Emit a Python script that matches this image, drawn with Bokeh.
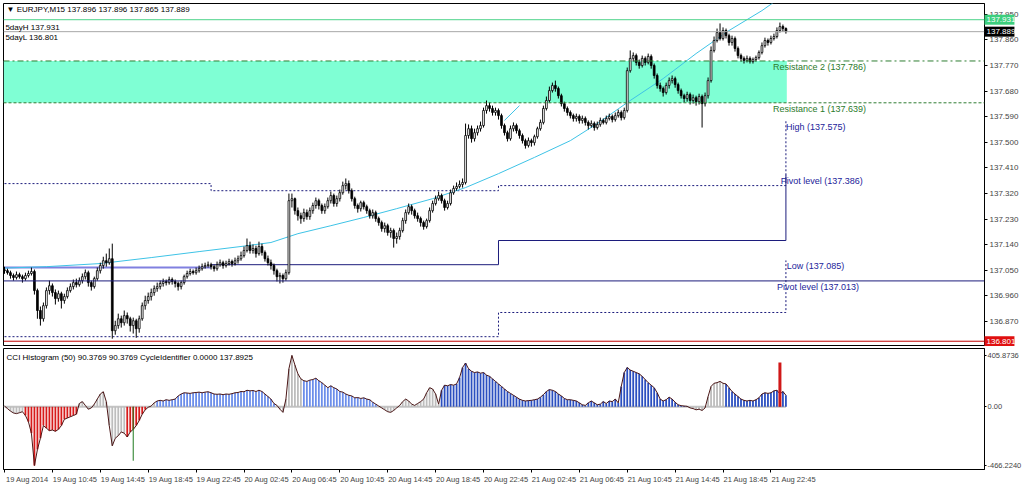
from bokeh.plotting import figure
from bokeh.layouts import column
from bokeh.models import Range1d, FixedTicker, PrintfTickFormatter, Span, Label
from bokeh.embed import file_html
from bokeh.resources import INLINE
from bokeh.core.properties import value

# ---------------- data ----------------
symbol_header = "\u25bc EURJPY,M15  137.896 137.896 137.865 137.889"
indicator_header = "CCI Histogram (50) 90.3769 90.3769   CycleIdentifier 0.0000 137.8925"

time_labels = ["19 Aug 2014", "19 Aug 10:45", "19 Aug 14:45", "19 Aug 18:45", "19 Aug 22:45",
               "20 Aug 02:45", "20 Aug 06:45", "20 Aug 10:45", "20 Aug 14:45", "20 Aug 18:45",
               "20 Aug 22:45", "21 Aug 02:45", "21 Aug 06:45", "21 Aug 10:45", "21 Aug 14:45",
               "21 Aug 18:45", "21 Aug 22:45"]
bars_per_label = 16

first_open = 137.052
closes = [
    137.049, 137.042, 137.032, 137.025, 137.035, 137.028, 137.021, 137.032, 137.039, 137.046,
    136.979, 136.909, 136.880, 136.926, 136.979, 136.996, 136.972, 136.951, 136.968, 136.944,
    136.958, 136.979, 136.993, 137.007, 137.000, 137.014, 137.028, 137.042, 137.007, 136.993,
    137.021, 137.049, 137.067, 137.084, 137.077, 137.091, 136.838, 136.856, 136.880, 136.866,
    136.891, 136.880, 136.856, 136.873, 136.845, 136.880, 136.926, 136.944, 136.958, 136.972,
    136.986, 136.993, 137.004, 137.011, 137.007, 137.018, 137.011, 137.004, 136.993, 137.007,
    137.028, 137.039, 137.046, 137.042, 137.049, 137.056, 137.063, 137.067, 137.070, 137.063,
    137.056, 137.070, 137.077, 137.067, 137.074, 137.081, 137.074, 137.084, 137.091, 137.102,
    137.120, 137.137, 137.120, 137.127, 137.109, 137.134, 137.113, 137.091, 137.077, 137.067,
    137.049, 137.028, 137.032, 137.021, 137.042, 137.295, 137.302, 137.260, 137.242, 137.232,
    137.253, 137.239, 137.260, 137.278, 137.295, 137.278, 137.260, 137.274, 137.295, 137.313,
    137.285, 137.302, 137.323, 137.348, 137.355, 137.330, 137.302, 137.278, 137.267, 137.288,
    137.274, 137.260, 137.242, 137.253, 137.232, 137.218, 137.197, 137.207, 137.183, 137.190,
    137.162, 137.169, 137.190, 137.225, 137.253, 137.274, 137.260, 137.242, 137.232, 137.218,
    137.204, 137.225, 137.260, 137.285, 137.302, 137.313, 137.295, 137.271, 137.285, 137.323,
    137.338, 137.345, 137.352, 137.359, 137.524, 137.548, 137.513, 137.534, 137.548, 137.559,
    137.612, 137.629, 137.619, 137.605, 137.612, 137.594, 137.559, 137.534, 137.513, 137.548,
    137.559, 137.541, 137.524, 137.506, 137.489, 137.506, 137.499, 137.520, 137.548, 137.570,
    137.619, 137.647, 137.682, 137.700, 137.689, 137.664, 137.636, 137.619, 137.605, 137.594,
    137.584, 137.591, 137.577, 137.584, 137.570, 137.559, 137.566, 137.552, 137.563, 137.577,
    137.570, 137.584, 137.591, 137.580, 137.594, 137.605, 137.587, 137.612, 137.752, 137.795,
    137.805, 137.781, 137.770, 137.795, 137.781, 137.802, 137.770, 137.735, 137.700, 137.689,
    137.675, 137.700, 137.717, 137.724, 137.703, 137.682, 137.664, 137.654, 137.668, 137.647,
    137.657, 137.643, 137.661, 137.636, 137.664, 137.717, 137.823, 137.858, 137.886, 137.865,
    137.893, 137.875, 137.851, 137.865, 137.830, 137.805, 137.795, 137.788, 137.795, 137.784,
    137.791, 137.798, 137.816, 137.840, 137.858, 137.851, 137.865, 137.872, 137.893, 137.907,
    137.900, 137.889]
highs = [
    137.063, 137.056, 137.049, 137.039, 137.046, 137.042, 137.035, 137.042, 137.049, 137.060,
    137.053, 136.986, 136.923, 136.937, 136.990, 137.014, 137.004, 136.983, 136.979, 136.975,
    136.968, 136.990, 137.004, 137.018, 137.021, 137.025, 137.039, 137.053, 137.049, 137.014,
    137.028, 137.060, 137.077, 137.098, 137.109, 137.127, 137.144, 136.873, 136.898, 136.891,
    136.909, 136.902, 136.887, 136.884, 136.880, 136.891, 136.937, 136.961, 136.972, 136.986,
    136.997, 137.007, 137.014, 137.021, 137.018, 137.028, 137.025, 137.018, 137.011, 137.014,
    137.035, 137.049, 137.056, 137.053, 137.060, 137.067, 137.074, 137.077, 137.081, 137.077,
    137.070, 137.081, 137.088, 137.084, 137.084, 137.091, 137.088, 137.095, 137.102, 137.116,
    137.134, 137.162, 137.151, 137.141, 137.137, 137.151, 137.144, 137.120, 137.102, 137.088,
    137.074, 137.056, 137.042, 137.039, 137.053, 137.320, 137.320, 137.306, 137.271, 137.253,
    137.267, 137.264, 137.271, 137.288, 137.306, 137.302, 137.285, 137.285, 137.306, 137.327,
    137.320, 137.313, 137.334, 137.362, 137.373, 137.366, 137.338, 137.309, 137.285, 137.295,
    137.295, 137.281, 137.267, 137.264, 137.260, 137.239, 137.225, 137.218, 137.214, 137.200,
    137.197, 137.183, 137.200, 137.235, 137.264, 137.285, 137.281, 137.267, 137.253, 137.239,
    137.225, 137.232, 137.271, 137.295, 137.313, 137.327, 137.320, 137.302, 137.295, 137.334,
    137.348, 137.359, 137.366, 137.373, 137.566, 137.563, 137.559, 137.548, 137.559, 137.573,
    137.622, 137.647, 137.640, 137.629, 137.622, 137.619, 137.601, 137.566, 137.541, 137.559,
    137.570, 137.566, 137.548, 137.531, 137.513, 137.517, 137.513, 137.527, 137.555, 137.580,
    137.629, 137.661, 137.696, 137.710, 137.717, 137.696, 137.671, 137.643, 137.626, 137.612,
    137.601, 137.601, 137.598, 137.594, 137.591, 137.577, 137.577, 137.573, 137.573, 137.587,
    137.584, 137.594, 137.601, 137.598, 137.605, 137.615, 137.612, 137.622, 137.763, 137.823,
    137.816, 137.812, 137.791, 137.805, 137.802, 137.812, 137.809, 137.777, 137.742, 137.710,
    137.696, 137.710, 137.728, 137.735, 137.731, 137.710, 137.689, 137.671, 137.678, 137.675,
    137.668, 137.664, 137.671, 137.668, 137.675, 137.728, 137.837, 137.872, 137.900, 137.918,
    137.904, 137.900, 137.882, 137.875, 137.872, 137.837, 137.812, 137.802, 137.805, 137.802,
    137.798, 137.805, 137.823, 137.851, 137.868, 137.865, 137.875, 137.882, 137.904, 137.921,
    137.914, 137.904]
lows = [
    137.038, 137.035, 137.021, 137.014, 137.018, 137.021, 137.007, 137.014, 137.025, 137.032,
    136.965, 136.880, 136.856, 136.870, 136.916, 136.965, 136.958, 136.930, 136.940, 136.916,
    136.933, 136.951, 136.972, 136.983, 136.990, 136.993, 137.004, 137.018, 136.993, 136.979,
    136.986, 137.014, 137.039, 137.056, 137.063, 137.070, 136.810, 136.824, 136.845, 136.849,
    136.856, 136.863, 136.835, 136.828, 136.813, 136.831, 136.873, 136.912, 136.933, 136.944,
    136.961, 136.975, 136.983, 136.993, 136.997, 137.000, 137.000, 136.990, 136.979, 136.983,
    137.000, 137.021, 137.032, 137.035, 137.035, 137.042, 137.049, 137.056, 137.060, 137.053,
    137.046, 137.049, 137.063, 137.056, 137.060, 137.067, 137.063, 137.067, 137.074, 137.084,
    137.095, 137.113, 137.109, 137.109, 137.095, 137.102, 137.102, 137.081, 137.067, 137.053,
    137.035, 137.011, 137.004, 137.007, 137.014, 137.035, 137.271, 137.246, 137.225, 137.214,
    137.221, 137.228, 137.228, 137.249, 137.267, 137.264, 137.249, 137.249, 137.267, 137.285,
    137.274, 137.274, 137.292, 137.316, 137.334, 137.320, 137.292, 137.267, 137.253, 137.257,
    137.264, 137.249, 137.232, 137.232, 137.221, 137.207, 137.186, 137.183, 137.172, 137.165,
    137.130, 137.144, 137.158, 137.183, 137.214, 137.246, 137.246, 137.232, 137.221, 137.204,
    137.193, 137.197, 137.218, 137.253, 137.278, 137.295, 137.285, 137.260, 137.264, 137.278,
    137.316, 137.330, 137.338, 137.341, 137.352, 137.513, 137.499, 137.503, 137.524, 137.538,
    137.552, 137.601, 137.608, 137.594, 137.594, 137.580, 137.548, 137.524, 137.503, 137.506,
    137.538, 137.531, 137.513, 137.496, 137.478, 137.482, 137.485, 137.489, 137.513, 137.541,
    137.563, 137.612, 137.640, 137.675, 137.678, 137.654, 137.626, 137.608, 137.594, 137.584,
    137.573, 137.573, 137.566, 137.566, 137.559, 137.545, 137.552, 137.541, 137.545, 137.555,
    137.563, 137.563, 137.577, 137.570, 137.573, 137.587, 137.577, 137.580, 137.605, 137.745,
    137.784, 137.770, 137.759, 137.763, 137.770, 137.774, 137.759, 137.724, 137.689, 137.678,
    137.661, 137.668, 137.689, 137.707, 137.692, 137.671, 137.654, 137.640, 137.643, 137.633,
    137.636, 137.629, 137.633, 137.552, 137.626, 137.654, 137.710, 137.816, 137.851, 137.858,
    137.858, 137.865, 137.840, 137.840, 137.819, 137.795, 137.784, 137.777, 137.781, 137.777,
    137.777, 137.784, 137.791, 137.809, 137.833, 137.840, 137.844, 137.858, 137.865, 137.886,
    137.889, 137.882]

# CCI histogram values (one per bar)
cci = [
    5, -15, -35, -50, -55, -48, -40, -70, -120, -210,
    -466.224, -340, -250, -150, -170, -190, -185, -195, -180, -150,
    -100, -90, -80, -70, -60, 25, 40, 10, -20, -10,
    20, 60, 100, 118, 40, -150, -310, -250, -230, -200,
    -210, -240, -200, -180, -150, -110, -60, -25, -5, 5,
    30, 45, 50, 45, 55, 50, 55, 60, 85, 100,
    110, 108, 105, 110, 112, 115, 110, 115, 118, 110,
    100, 98, 100, 95, 100, 98, 103, 110, 112, 120,
    118, 130, 125, 128, 120, 130, 120, 100, 80, 60,
    25, 10, -20, -45, 60, 300, 405.8736, 330, 260, 220,
    205, 200, 210, 215, 225, 205, 190, 170, 150, 165,
    150, 140, 120, 115, 100, 90, 85, 70, 72, 65,
    70, 60, 55, 35, 20, 5, -10, -25, -40, -45,
    -30, -10, 10, 40, 60, 45, 20, 10, 25, 40,
    60, 110, 150, 140, 100, 20, 130, 170, 165, 175,
    170, 180, 230, 310, 345, 300, 280, 270, 275, 265,
    270, 250, 240, 220, 200, 180, 160, 140, 120, 105,
    90, 75, 60, 50, 45, 48, 50, 55, 60, 75,
    95, 120, 135, 130, 120, 100, 85, 65, 55, 55,
    50, 45, 30, 15, 10, 30, 45, 30, 15, 20,
    40, 25, 45, 40, 60, 30, 160, 270, 310, 290,
    280, 270, 260, 240, 215, 190, 170, 150, 110, 60,
    45, 55, 75, 60, 35, 15, 8, 5, 3, -10,
    -15, -25, -20, -30, -10, 80, 160, 185, 190, 200,
    185, 180, 150, 120, 100, 80, 60, 50, 45, 50,
    45, 55, 70, 100, 110, 105, 110, 125, 130, 100,
    120, 90.3769]
# histogram colour states as runs: (first bar of run, state)
hist_run_starts = [0, 7, 25, 41, 48, 51, 91, 100, 125, 146, 229, 241]
hist_run_states = ["flat", "down", "flat", "down", "flat", "up", "flat", "up", "flat", "up2", "flat", "up2"]
# cycle identifier signals
signal_bars = [43, 259]
signal_values = [-428, 350]
signal_kinds = ["buy", "sell"]

# daily levels (day start bars and levels)
day_starts = [0, 69, 165, 261]
day_high = [137.355, 137.330, 137.348, 137.575]
day_pivot = [137.060, 137.070, 137.155, 137.386]
day_low = [136.817, 136.817, 136.902, 137.085]
resistance2 = 137.786
resistance1 = 137.639
pivot_wide = 137.013
five_day_high = 137.931
five_day_low = 136.801
bid = 137.889

# regression-style curve
curve_bars = [0, 14, 32, 49, 65, 79, 89, 98, 109, 120, 131, 143, 154, 165, 177, 189, 198, 209, 220, 231, 242, 253, 262]
curve_vals = [137.058, 137.063, 137.074, 137.095, 137.116, 137.134, 137.148, 137.179, 137.207, 137.236, 137.267,
              137.302, 137.341, 137.390, 137.447, 137.506, 137.566, 137.647, 137.724, 137.812, 137.893, 137.963, 138.030]
trend_bars = [167, 172]
trend_vals = [137.577, 137.629]

# ---------------- build ----------------
FONT = "Liberation Sans"
W = 1024
LB, RB = 3, 38
PH, PT, PB = 346, 3, 1
QH = 140
n = len(closes)
idx = list(range(n))
opens = [first_open] + closes[:-1]
body_top = [max(o, c) for o, c in zip(opens, closes)]
body_bot = [min(o, c) for o, c in zip(opens, closes)]
body_fill = ["white" if c >= o else "black" for o, c in zip(opens, closes)]

x_range = Range1d(-0.33, 327.33)
y_range = Range1d(136.786, 137.988)

p = figure(width=W, height=PH, x_range=x_range, y_range=y_range,
           output_backend="svg", toolbar_location=None, y_axis_location="right",
           x_axis_location=None, min_border_left=LB, min_border_right=RB,
           min_border_top=PT, min_border_bottom=PB)
p.grid.visible = False
p.outline_line_color = "black"
p.outline_line_width = 1
p.background_fill_color = "white"
p.border_fill_color = "white"

# resistance zone
p.quad(left=[-0.3], right=[n - 1 + 0.3], bottom=[resistance1], top=[resistance2],
       fill_color="#7FFFD4", line_color=None)

# full-width level lines
p.add_layout(Span(location=resistance2, dimension="width", line_color="#2E7D32", line_width=1, line_dash="6 3 2 3"))
p.add_layout(Span(location=resistance1, dimension="width", line_color="#2E7D32", line_width=1, line_dash="3 2"))
p.add_layout(Span(location=five_day_high, dimension="width", line_color="#4CD38A", line_width=1))
p.add_layout(Span(location=bid, dimension="width", line_color="#A8A8A8", line_width=1))
p.add_layout(Span(location=five_day_low, dimension="width", line_color="#C00000", line_width=1))
p.add_layout(Span(location=pivot_wide, dimension="width", line_color="#1C1C7C", line_width=1))


def steps(levels, first=0):
    xs, ys = [], []
    for k in range(first, len(levels)):
        start = day_starts[k]
        end = day_starts[k + 1] if k + 1 < len(levels) else day_starts[k]
        xs += [start, end]
        ys += [levels[k], levels[k]]
    return xs, ys


hx, hy = steps(day_high)
p.line(hx, hy, line_color="#1C1C7C", line_dash="2 2", line_width=1)
lx, ly = steps(day_low)
p.line(lx, ly, line_color="#1C1C7C", line_dash="2 2", line_width=1)
px_, py_ = steps(day_pivot, 1)
p.line(px_, py_, line_color="#1C1C7C", line_width=1)
p.line([day_starts[0], day_starts[1]], [day_pivot[0], day_pivot[0]], line_color="#8080E0", line_width=2)

# curve + short trend line
p.line(curve_bars, curve_vals, line_color="#3EC3E6", line_width=1)
p.line(trend_bars, trend_vals, line_color="#3EC3E6", line_width=1)

# candles
p.segment(x0=idx, y0=lows, x1=idx, y1=highs, line_color="black", line_width=1)
p.vbar(x=idx, width=0.6, top=body_top, bottom=body_bot, fill_color=body_fill,
       line_color="black", line_width=0.8)

# level texts
lvl_x = [n - 5.3, n - 5.3, n - 1, n - 2.7, n - 0.7, n - 4]
lvl_y = [resistance2, resistance1, day_high[-1], day_pivot[-1], day_low[-1], pivot_wide]
lvl_t = ["Resistance 2 (%.3f)" % resistance2, "Resistance 1 (%.3f)" % resistance1,
         "High (%.3f)" % day_high[-1], "Pivot level (%.3f)" % day_pivot[-1],
         "Low (%.3f)" % day_low[-1], "Pivot level (%.3f)" % pivot_wide]
lvl_c = ["#2B7A2B", "#2B7A2B", "#23239A", "#23239A", "#23239A", "#23239A"]
p.text(x=lvl_x, y=lvl_y, text=lvl_t, text_color=lvl_c, text_font=value(FONT),
       text_font_size="9px", text_baseline="top", text_align="left", y_offset=1)

# header texts
p.add_layout(Label(x=0.7, y=137.984, text=symbol_header, text_font=FONT, text_font_size="8px",
                   text_baseline="top", text_color="black"))
p.add_layout(Label(x=0.3, y=137.919, text="5dayH %.3f" % five_day_high, text_font=FONT,
                   text_font_size="8px", text_baseline="top", text_color="black"))
p.add_layout(Label(x=0.3, y=137.884, text="5dayL %.3f" % five_day_low, text_font=FONT,
                   text_font_size="8px", text_baseline="top", text_color="black"))

# price axis
p.yaxis.ticker = FixedTicker(ticks=[136.78 + 0.09 * k for k in range(14)])
p.yaxis.formatter = PrintfTickFormatter(format="%.3f")
p.yaxis.major_label_text_font = FONT
p.yaxis.major_label_text_font_size = "8px"
p.yaxis.major_tick_out = 3
p.yaxis.major_tick_in = 0
p.yaxis.minor_tick_out = 0
p.yaxis.minor_tick_in = 0
p.yaxis.major_label_standoff = 2
p.yaxis.axis_line_color = "black"

# price tags drawn over the axis as overlay-level glyphs anchored at the frame edge
frame_w = W - LB - RB
px_per_bar = frame_w / (x_range.end - x_range.start)
frame_h = PH - PT - PB
price_per_px = (y_range.end - y_range.start) / frame_h
tag_vals = [five_day_high, bid, five_day_low]
tag_bg = ["#3DCF7E", "black", "#E01010"]
edge = x_range.end - 0.001
p.quad(left=[edge] * 3, right=[edge + 30 / px_per_bar] * 3,
       bottom=[v - 5 * price_per_px for v in tag_vals], top=[v + 5 * price_per_px for v in tag_vals],
       fill_color=tag_bg, line_color=None, level="overlay")
p.text(x=[edge] * 3, y=tag_vals, text=["%.3f" % v for v in tag_vals], x_offset=2,
       text_color="white", text_font=value(FONT), text_font_size="8px",
       text_baseline="middle", text_align="left", level="overlay")

# ---------------- indicator ----------------
ymin, ymax = min(cci), max(cci)
q = figure(width=W, height=QH, x_range=x_range, y_range=Range1d(-497.4, 460.4),
           output_backend="svg", toolbar_location=None, y_axis_location="right",
           min_border_left=LB, min_border_right=RB, min_border_top=2, min_border_bottom=0)
q.grid.visible = False
q.outline_line_color = "black"
q.background_fill_color = "white"
q.border_fill_color = "white"

state_color = {"flat": "#BDBDBD", "down": "#D71A1A", "up": "#6C8EEA", "up2": "#2B4FC0"}
colors = []
for k, st in enumerate(hist_run_states):
    end = hist_run_starts[k + 1] if k + 1 < len(hist_run_starts) else n
    colors += [state_color[st]] * (end - hist_run_starts[k])

q.line([0, n - 1], [0, 0], line_color="#C4C4C4", line_width=2)
q.vbar(x=idx, width=0.6, top=cci, bottom=0, fill_color=colors, line_color=None)
q.line(idx, cci, line_color="#4A1616", line_width=1)
sig_color = {"buy": "#1E7B1E", "sell": "#D01818"}
sig_width = {"buy": 1, "sell": 3}
q.segment(x0=signal_bars, y0=[0] * len(signal_bars), x1=signal_bars, y1=signal_values,
          line_color=[sig_color[s] for s in signal_kinds],
          line_width=[sig_width[s] for s in signal_kinds])

q.add_layout(Label(x=0.7, y=423, text=indicator_header, text_font=FONT, text_font_size="8px",
                   text_baseline="top", text_color="black"))

q.yaxis.ticker = FixedTicker(ticks=[ymin, 0, ymax])
q.yaxis.major_label_overrides = {ymin: "%.4f" % ymin, 0: "0.00", ymax: "%.4f" % ymax}
q.yaxis.major_label_text_font = FONT
q.yaxis.major_label_text_font_size = "7.5px"
q.yaxis.major_tick_out = 2
q.yaxis.major_tick_in = 0
q.yaxis.minor_tick_out = 0
q.yaxis.minor_tick_in = 0
q.yaxis.major_label_standoff = 1

# time axis: real tick marks as minor ticks, labels centred to the right of each tick
label_shift = 7.6
tick_pos = [bars_per_label * k for k in range(len(time_labels))]
label_pos = [t + label_shift for t in tick_pos]
q.xaxis.ticker = FixedTicker(ticks=label_pos, minor_ticks=tick_pos)
q.xaxis.major_label_overrides = {t: lab for t, lab in zip(label_pos, time_labels)}
q.xaxis.major_label_text_font = FONT
q.xaxis.major_label_text_font_size = "7.5px"
q.xaxis.major_tick_out = 0
q.xaxis.major_tick_in = 0
q.xaxis.minor_tick_out = 3
q.xaxis.minor_tick_in = 0
q.xaxis.minor_tick_line_color = "black"
q.xaxis.major_label_standoff = 2

layout = column(p, q, spacing=0)
open("out.html", "w").write(file_html(layout, INLINE))
